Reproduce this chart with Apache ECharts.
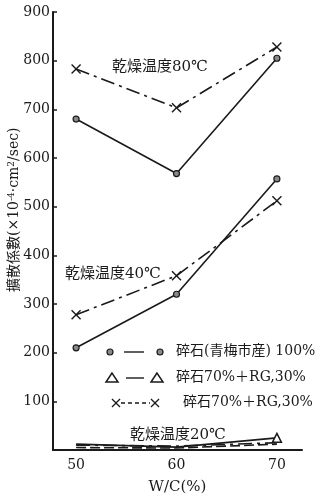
<!DOCTYPE html>
<html>
<head>
<meta charset="utf-8">
<script src="https://cdn.jsdelivr.net/npm/echarts@6/dist/echarts.min.js"></script>
<style>
  html, body { margin: 0; padding: 0; background: #fff; }
  #chart { width: 325px; height: 500px; }
</style>
</head>
<body>
<div id="chart"></div>
<script>
// W/C ratio (%) on the x axis
var wc = [50, 60, 70];
var xTicks = [50, 60, 70];

// diffusion coefficient (x10^-4 cm2/sec)
var dry80Stone = [680, 568, 805];
var dry80Mix   = [783, 703, 828];
var dry40Stone = [210, 320, 557];
var dry40Mix   = [278, 358, 512];
var dry20Stone = [5, 4, 12];
var dry20MixA  = [12, 6, 25];
var dry20MixB  = [10, 8, 15];

var legendLabels = ["碎石(青梅市産) 100%", "碎石70%＋RG,30%", "碎石70%＋RG,30%"];
var groupLabels = ["乾燥温度80℃", "乾燥温度40℃", "乾燥温度20℃"];

var ink = "#1a1a1a";
var serif = '"DejaVu Serif", "Liberation Serif", "Noto Sans CJK JP", serif';
var crossPath = "path://M0,1L1,0L5,4L9,0L10,1L6,5L10,9L9,10L5,6L1,10L0,9L4,5Z";
var crossPts = [[0,1],[1,0],[5,4],[9,0],[10,1],[6,5],[10,9],[9,10],[5,6],[1,10],[0,9],[4,5]];
var dashDot = [14, 5, 3, 5];

function pts(ys) { return wc.map(function (x, i) { return [x, ys[i]]; }); }

function stoneLine(ys) {
  return {
    type: "line", data: pts(ys), symbol: "circle", symbolSize: 6,
    itemStyle: { color: "#8a8a8a", borderColor: ink, borderWidth: 1.2 },
    lineStyle: { color: ink, width: 1.6 }, z: 3
  };
}
function mixLine(ys) {
  return {
    type: "line", data: pts(ys), symbol: crossPath, symbolSize: 10,
    itemStyle: { color: ink },
    lineStyle: { color: ink, width: 1.6, type: dashDot }, z: 3
  };
}
function lowLine(ys, type, lastSymbol) {
  var d = pts(ys).map(function (p, i) {
    var item = { value: p, symbol: "none" };
    if (i === ys.length - 1 && lastSymbol) {
      item.symbol = lastSymbol; item.symbolSize = 9;
    }
    return item;
  });
  return {
    type: "line", data: d,
    itemStyle: { color: "#fff", borderColor: ink, borderWidth: 1.5 },
    lineStyle: { color: ink, width: 1.6, type: type }
  };
}
function cross(cx, cy) {
  return {
    type: "polygon",
    shape: { points: crossPts.map(function (p) { return [cx - 4.5 + p[0] * 0.9, cy - 4.5 + p[1] * 0.9]; }) },
    style: { fill: ink }
  };
}

var chart = echarts.init(document.getElementById("chart"), null, { renderer: "canvas" });

var legendY = [352, 378, 403];
var legendGraphics = [
  // row 1: circle - circle
  { type: "circle", shape: { cx: 110, cy: legendY[0], r: 3 }, style: { fill: "#8a8a8a", stroke: ink, lineWidth: 1.2 } },
  { type: "line", shape: { x1: 124, y1: legendY[0], x2: 144, y2: legendY[0] }, style: { stroke: ink, lineWidth: 1.4 } },
  { type: "circle", shape: { cx: 160, cy: legendY[0], r: 3 }, style: { fill: "#8a8a8a", stroke: ink, lineWidth: 1.2 } },
  // row 2: triangle - triangle
  { type: "polygon", shape: { points: [[112, legendY[1] - 5], [106, legendY[1] + 4], [118, legendY[1] + 4]] }, style: { fill: "#fff", stroke: ink, lineWidth: 1.5 } },
  { type: "line", shape: { x1: 126, y1: legendY[1], x2: 144, y2: legendY[1] }, style: { stroke: ink, lineWidth: 1.4 } },
  { type: "polygon", shape: { points: [[157, legendY[1] - 5], [151, legendY[1] + 4], [163, legendY[1] + 4]] }, style: { fill: "#fff", stroke: ink, lineWidth: 1.5 } },
  // row 3: cross --- cross
  cross(116, legendY[2]),
  { type: "line", shape: { x1: 121, y1: legendY[2], x2: 150, y2: legendY[2] }, style: { stroke: ink, lineWidth: 1.4, lineDash: [4, 3] } },
  cross(155, legendY[2]),
  { type: "text", x: 176, y: legendY[0] - 8, style: { text: legendLabels[0], font: "14px " + serif, fill: ink } },
  { type: "text", x: 176, y: legendY[1] - 8, style: { text: legendLabels[1], font: "14px " + serif, fill: ink } },
  { type: "text", x: 183, y: legendY[2] - 8, style: { text: legendLabels[2], font: "14px " + serif, fill: ink } }
];

chart.setOption({
  animation: false,
  backgroundColor: "#fff",
  grid: { left: 53, right: 23, top: 12, bottom: 44 },
  xAxis: {
    type: "value", min: 47.7, max: 72.5,
    name: "W/C(%)", nameLocation: "middle", nameGap: 30,
    nameTextStyle: { fontFamily: serif, fontSize: 15, color: ink },
    axisLine: { onZero: false, lineStyle: { color: ink, width: 2 } },
    axisTick: { show: false },
    axisLabel: { customValues: xTicks, fontFamily: serif, fontSize: 14, color: ink, margin: 8 },
    splitLine: { show: false }
  },
  yAxis: {
    type: "value", min: 0, max: 900, interval: 100,
    axisLine: { show: true, lineStyle: { color: ink, width: 2 } },
    axisTick: { show: true, inside: true, length: 4, lineStyle: { color: ink, width: 1.5 } },
    axisLabel: {
      fontFamily: serif, fontSize: 14, color: ink, margin: 3,
      formatter: function (v) { return v === 0 ? "" : String(v); }
    },
    splitLine: { show: false }
  },
  series: [
    stoneLine(dry80Stone),
    mixLine(dry80Mix),
    stoneLine(dry40Stone),
    mixLine(dry40Mix),
    lowLine(dry20Stone, [10, 4], null),
    lowLine(dry20MixA, "solid", "triangle"),
    lowLine(dry20MixB, [14, 5, 3, 5], null)
  ],
  graphic: [
    { type: "text", x: 112, y: 60, style: { text: groupLabels[0], font: "15px " + serif, fill: ink } },
    { type: "text", x: 65, y: 267, style: { text: groupLabels[1], font: "15px " + serif, fill: ink } },
    { type: "text", x: 130, y: 428, style: { text: groupLabels[2], font: "15px " + serif, fill: ink } },
    {
      type: "text", x: 7, y: 292, rotation: Math.PI / 2,
      style: {
        text: "{a|擴散係數(×10}{s|-4}{a|·cm}{s|2}{a|/sec)}",
        rich: {
          a: { font: "14px " + serif, fill: ink },
          s: { font: "9px " + serif, fill: ink, verticalAlign: "top", padding: [0, 0, 6, 0] }
        },
        fill: ink
      }
    }
  ].concat(legendGraphics)
});
</script>
</body>
</html>
